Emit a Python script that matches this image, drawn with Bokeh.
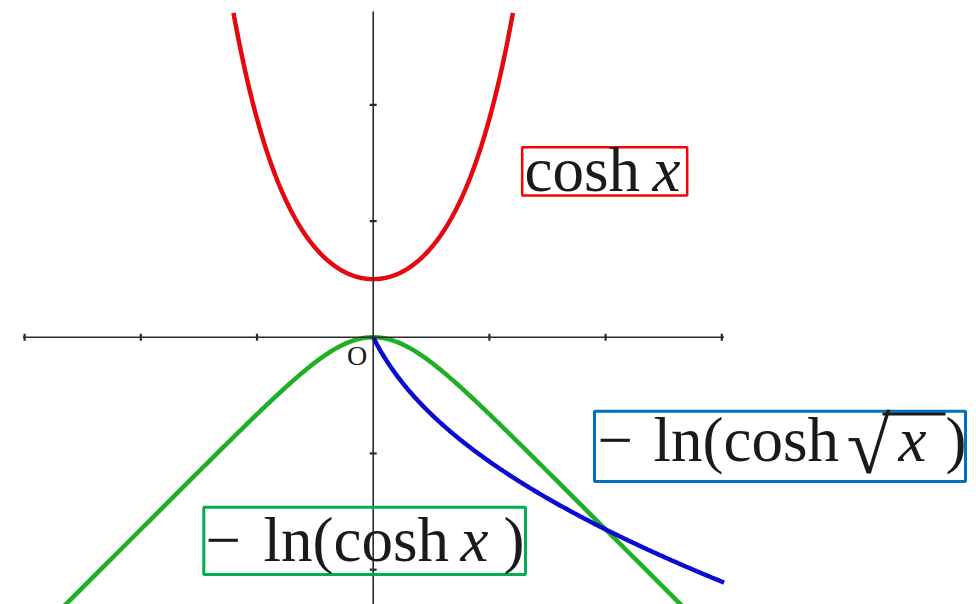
import numpy as np
from bokeh.plotting import figure
from bokeh.models import Range1d, Label, BoxAnnotation
from bokeh.embed import file_html
from bokeh.resources import INLINE

# ---- data -----------------------------------------------------------------
# x-extent of each curve (units of the axes)
cosh_domain = (-2.405, 2.405)         # cosh x, cut where it leaves the axis
neg_lncosh_domain = (-6.0, 6.0)       # -ln(cosh x)
neg_lncosh_sqrt_domain = (0.0, 6.04)  # -ln(cosh sqrt), defined for x >= 0
samples = 400

x_ticks = [-6, -4, -2, 2, 4, 6]
y_ticks = [-4, -2, 2, 4]
x_axis_bounds = (-6.03, 6.04)
y_axis_bounds = (-4.7, 5.606)

origin_text = "O"

# ---- canvas geometry --------------------------------------------------------
W, H = 976, 604
UNIT = 58.1                 # pixels per axis unit (equal aspect)
ORIGIN_X, ORIGIN_Y = 372.7, 336.75

X0, X1 = -ORIGIN_X / UNIT, (W - ORIGIN_X) / UNIT
Y0, Y1 = -(H - ORIGIN_Y) / UNIT, ORIGIN_Y / UNIT


def at(cx, cy):
    """Canvas pixel position (from top-left) -> data coordinates."""
    return (cx - ORIGIN_X) / UNIT, (ORIGIN_Y - cy) / UNIT


p = figure(width=W, height=H, x_range=Range1d(X0, X1), y_range=Range1d(Y0, Y1),
           output_backend="svg", toolbar_location=None, min_border=0,
           x_axis_type=None, y_axis_type=None)
p.outline_line_color = None
p.background_fill_color = "white"
p.border_fill_color = "white"

# ---- curves -----------------------------------------------------------------
xr = np.linspace(*cosh_domain, samples)
p.line(xr, np.cosh(xr), line_color="#E5080F", line_width=4.5)

xg = np.linspace(*neg_lncosh_domain, samples)
p.line(xg, -np.log(np.cosh(xg)), line_color="#1FAF24", line_width=4.5)

xb = np.linspace(*neg_lncosh_sqrt_domain, samples)
p.line(xb, -np.log(np.cosh(np.sqrt(4 * xb))), line_color="#0A0AD2", line_width=4.5)

# ---- axes through the origin (drawn above the curves) -----------------------
AXIS = "#2b2b2b"
p.segment(x0=[x_axis_bounds[0], 0], y0=[0, y_axis_bounds[0]],
          x1=[x_axis_bounds[1], 0], y1=[0, y_axis_bounds[1]],
          line_color=AXIS, line_width=1.6)
tick = 3.5 / UNIT
p.segment(x0=x_ticks, y0=[-tick] * len(x_ticks), x1=x_ticks, y1=[tick] * len(x_ticks),
          line_color=AXIS, line_width=2.2)
p.segment(x0=[-tick] * len(y_ticks), y0=y_ticks, x1=[tick] * len(y_ticks), y1=y_ticks,
          line_color=AXIS, line_width=2.2)

# ---- formula labels ---------------------------------------------------------
FONT = "Liberation Serif"
INK = "#1a1a1a"
SIZE = 63
LIFT = 0.37   # baseline correction, in em


def piece(text, cx, cy, italic=False, size=SIZE):
    x, y = at(cx, cy - LIFT * size)
    p.add_layout(Label(x=x, y=y, text=text, text_font=FONT,
                       text_font_size=f"{size}px",
                       text_font_style="italic" if italic else "normal",
                       text_align="left", text_baseline="alphabetic",
                       text_color=INK))


def frame_box(left, top, right, bottom, color, width=3):
    x0, y0 = at(left, bottom)
    x1, y1 = at(right, top)
    p.add_layout(BoxAnnotation(left=x0, right=x1, bottom=y0, top=y1,
                               fill_alpha=0, line_color=color, line_alpha=1,
                               line_width=width))


def bar(left, top, right, bottom):
    x0, y0 = at(left, bottom)
    x1, y1 = at(right, top)
    p.add_layout(BoxAnnotation(left=x0, right=x1, bottom=y0, top=y1,
                               fill_color=INK, fill_alpha=1, line_color=None))


# cosh x
frame_box(521.7, 146.7, 686.7, 195, "#FF0000", 2.5)
piece("cosh", 524, 193)
piece("x", 652, 193, italic=True)

# -ln(cosh sqrt x)
frame_box(594, 410.7, 965, 481, "#0070C0", 3)
piece("\u2212", 597, 463)
piece("ln(cosh", 653, 463)
piece("\u221a", 846, 475, size=80)
piece("x", 898, 463, italic=True)
bar(882, 412, 945, 415)
piece(")", 945, 463)

# -ln(cosh x)
frame_box(203.3, 506.7, 525, 574, "#00B050", 3)
piece("\u2212", 205, 563)
piece("ln(cosh", 263, 563)
piece("x", 460, 563, italic=True)
piece(")", 503, 563)

# origin mark
ox, oy = at(356.7, 354.5)
p.add_layout(Label(x=ox, y=oy, text=origin_text, text_font=FONT,
                   text_font_size="28px", text_align="center",
                   text_baseline="middle", text_color=INK))

open("out.html", "w").write(file_html(p, INLINE))
